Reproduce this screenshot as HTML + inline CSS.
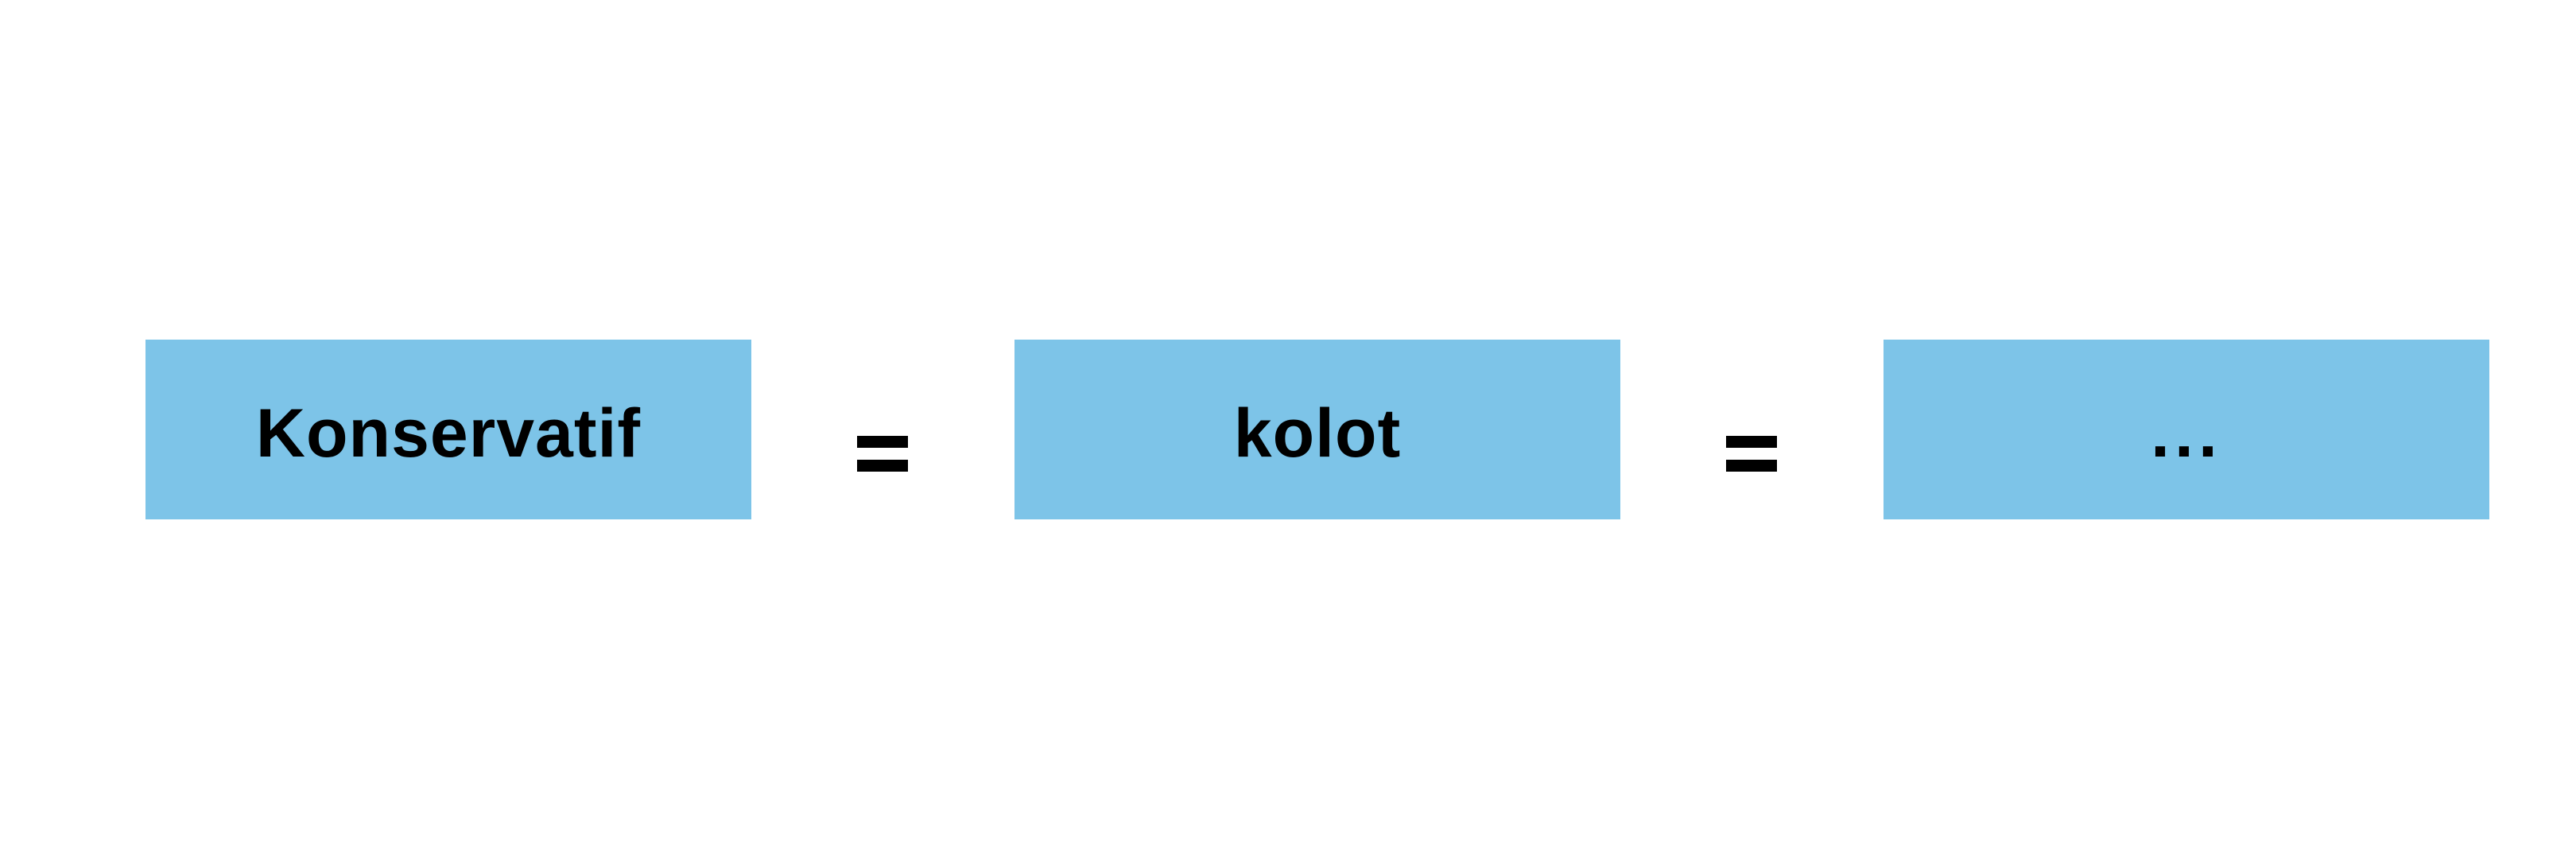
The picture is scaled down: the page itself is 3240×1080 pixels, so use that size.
<!DOCTYPE html>
<html><head><style>
body{margin:0;width:3240px;height:1080px;background:#fff;position:relative;overflow:hidden;font-family:"Liberation Sans",sans-serif}
.b{position:absolute;top:427px;height:226px;width:762px;background:#7dc4e8;display:flex;align-items:center;justify-content:center;font-weight:bold;font-size:86px;color:#000}
.b span{position:relative;top:5px;letter-spacing:1px}
.e{position:absolute;width:64px;height:15px;background:#000}
</style></head><body>
<div class="b" style="left:183px"><span>Konservatif</span></div>
<div class="b" style="left:1276px"><span>kolot</span></div>
<div class="b" style="left:2369px"><span style="letter-spacing:6px">...</span></div>
<div class="e" style="left:1078px;top:548px"></div>
<div class="e" style="left:1078px;top:578px"></div>
<div class="e" style="left:2171px;top:548px"></div>
<div class="e" style="left:2171px;top:578px"></div>
</body></html>
